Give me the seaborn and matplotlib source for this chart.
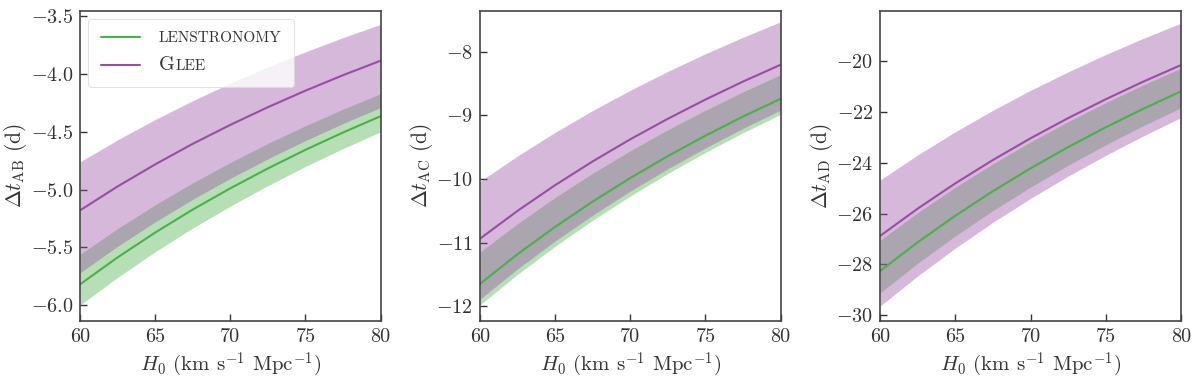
import numpy as np
import pandas as pd
import matplotlib
matplotlib.use("Agg")
import matplotlib.pyplot as plt
from matplotlib.offsetbox import HPacker, TextArea
import seaborn as sns

# ---- data ----
H0 = [60, 62.5, 65, 67.5, 70, 72.5, 75, 77.5, 80]

ab_lens    = [-5.82, -5.587, -5.372, -5.173, -4.989, -4.817, -4.656, -4.506, -4.365]
ab_lens_lo = [-6.00, -5.760, -5.538, -5.333, -5.143, -4.966, -4.800, -4.645, -4.500]
ab_lens_hi = [-5.56, -5.338, -5.132, -4.942, -4.766, -4.601, -4.448, -4.305, -4.170]
ab_glee    = [-5.18, -4.973, -4.782, -4.604, -4.440, -4.287, -4.144, -4.010, -3.885]
ab_glee_lo = [-5.72, -5.491, -5.280, -5.084, -4.903, -4.734, -4.576, -4.428, -4.290]
ab_glee_hi = [-4.76, -4.570, -4.394, -4.231, -4.080, -3.939, -3.808, -3.685, -3.570]

ac_lens    = [-11.65, -11.184, -10.754, -10.356, -9.986, -9.641, -9.320, -9.019, -8.740]
ac_lens_lo = [-11.98, -11.501, -11.058, -10.649, -10.269, -9.914, -9.584, -9.274, -8.985]
ac_lens_hi = [-11.15, -10.704, -10.292, -9.911, -9.557, -9.227, -8.920, -8.632, -8.362]
ac_glee    = [-10.94, -10.502, -10.098, -9.724, -9.377, -9.054, -8.752, -8.469, -8.205]
ac_glee_lo = [-11.89, -11.414, -10.975, -10.569, -10.191, -9.840, -9.512, -9.205, -8.918]
ac_glee_hi = [-10.04, -9.638, -9.268, -8.924, -8.606, -8.309, -8.032, -7.773, -7.530]

ad_lens    = [-28.26, -27.130, -26.086, -25.120, -24.223, -23.388, -22.608, -21.879, -21.195]
ad_lens_lo = [-29.12, -27.955, -26.880, -25.884, -24.960, -24.100, -23.296, -22.545, -21.840]
ad_lens_hi = [-27.05, -25.968, -24.969, -24.044, -23.186, -22.386, -21.640, -20.942, -20.288]
ad_glee    = [-26.88, -25.805, -24.812, -23.893, -23.040, -22.246, -21.504, -20.810, -20.160]
ad_glee_lo = [-29.64, -28.454, -27.360, -26.347, -25.406, -24.530, -23.712, -22.947, -22.230]
ad_glee_hi = [-24.68, -23.693, -22.782, -21.938, -21.154, -20.425, -19.744, -19.107, -18.510]

labels = ["AB", "AC", "AD"]
model_names = ["LENSTRONOMY", "GLEE"]

# ---- style ----
sns.set_theme(style="white")
plt.rcParams["font.family"] = ["serif"]
plt.rcParams["font.serif"] = ["cmr10", "DejaVu Serif"]
plt.rcParams["mathtext.fontset"] = "cm"
plt.rcParams["axes.formatter.use_mathtext"] = True

green = "#4daf4a"
purple = "#984ea3"
txt = "#333333"

fig = plt.figure(figsize=(12, 3.8), dpi=100)
lefts = [0.0667, 0.4, 0.7335]
axes = [fig.add_axes([l, 0.156, 0.2505, 0.815]) for l in lefts]

panels = [
    (ab_lens, ab_lens_lo, ab_lens_hi, ab_glee, ab_glee_lo, ab_glee_hi, (-6.135, -3.455), [-6.0, -5.5, -5.0, -4.5, -4.0, -3.5], "{:.1f}"),
    (ac_lens, ac_lens_lo, ac_lens_hi, ac_glee, ac_glee_lo, ac_glee_hi, (-12.23, -7.36), [-12, -11, -10, -9, -8], "{:.0f}"),
    (ad_lens, ad_lens_lo, ad_lens_hi, ad_glee, ad_glee_lo, ad_glee_hi, (-30.22, -18.03), [-30, -28, -26, -24, -22, -20], "{:.0f}"),
]

for i, (ax, p) in enumerate(zip(axes, panels)):
    lens, lens_lo, lens_hi, glee, glee_lo, glee_hi, ylim, yt, fmt = p
    df = pd.DataFrame({
        "H0": H0 * 2,
        "dt": list(lens) + list(glee),
        "model": [model_names[0]] * len(H0) + [model_names[1]] * len(H0),
    })
    ax.fill_between(H0, lens_lo, lens_hi, color=green, alpha=0.4, linewidth=0)
    ax.fill_between(H0, glee_lo, glee_hi, color=purple, alpha=0.4, linewidth=0)
    sns.lineplot(data=df, x="H0", y="dt", hue="model", palette=[green, purple],
                 ax=ax, linewidth=1.5, legend=(i == 0))
    ax.set_xlim(60, 80)
    ax.set_ylim(*ylim)
    ax.set_xticks([60, 65, 70, 75, 80])
    ax.set_yticks(yt)
    ax.set_yticklabels([("$-$" + fmt.format(abs(v))) for v in yt])
    ax.set_xticklabels(["60", "65", "70", "75", "80"])
    ax.tick_params(direction="in", length=5, width=1, labelsize=14.5, colors=txt,
                   left=True, bottom=True, top=False, right=False, pad=5)
    for s in ax.spines.values():
        s.set_color("#444444")
        s.set_linewidth(1.2)
    ax.set_xlabel(r"$H_0$ (km s$^{-1}$ Mpc$^{-1}$)", fontsize=15, color=txt, labelpad=4)
    ax.set_ylabel(r"$\Delta t_{\rm %s}$ (d)" % labels[i], fontsize=15.5, color=txt, labelpad=1)
    if i == 0:
        leg = ax.legend(loc="upper left", fontsize=11, frameon=True, handlelength=2.6,
                        borderpad=0.85, labelspacing=0.7, handletextpad=1.2,
                        borderaxespad=0.5)
        leg.get_frame().set_edgecolor("#dddddd")
        leg.get_frame().set_linewidth(0.8)
        for t in leg.get_texts():
            t.set_color(txt)
        # small-caps look for "Glee": big G followed by small capitals
        try:
            col = leg._legend_handle_box.get_children()[0]
            rows = col.get_children()
            row = rows[1]
            kids = row.get_children()
            big = TextArea("G", textprops=dict(fontsize=14.5, color=txt))
            small = TextArea("LEE", textprops=dict(fontsize=11, color=txt))
            kids[1] = HPacker(children=[big, small], pad=0, sep=0.5, align="baseline")
            row._children = kids
            leg._legend_box.set_figure(fig)
        except Exception:
            pass

fig.savefig("out.png", dpi=100)
